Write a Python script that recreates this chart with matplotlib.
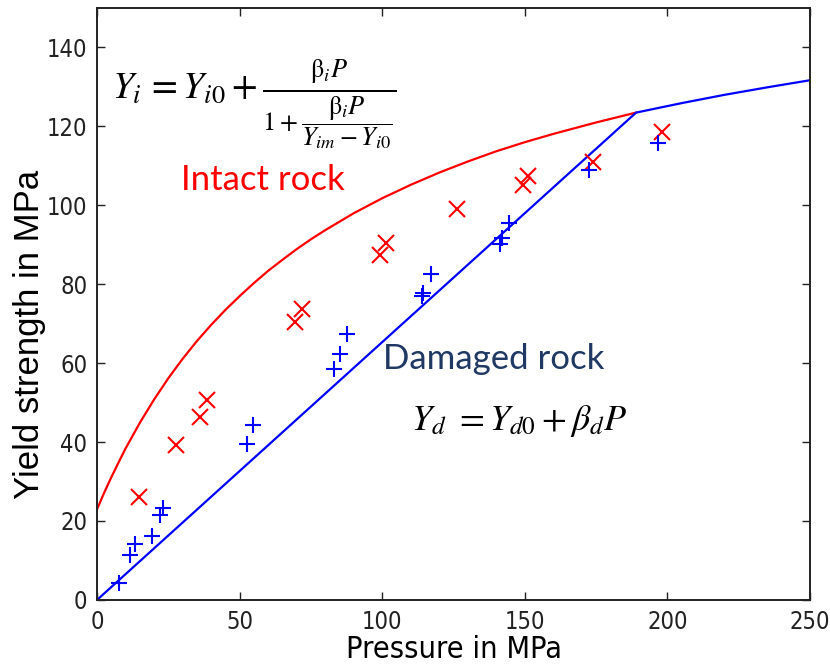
import matplotlib.pyplot as plt

plt.rcParams['mathtext.fontset'] = 'stix'

# intact rock curve
intact_p = [0, 2.5, 5, 7.5, 10, 15, 20, 25, 30, 35, 40, 45, 50, 55, 60, 65, 70, 75, 80,
            90, 100, 110, 120, 130, 140, 150, 160, 175, 189]
intact_y = [23.0, 27.2, 31.1, 34.8, 38.4, 44.9, 50.8, 56.2, 61.1, 65.6, 69.7, 73.5, 77.0,
            80.3, 83.4, 86.2, 88.9, 91.4, 93.7, 98.0, 101.8, 105.2, 108.3, 111.1, 113.7,
            116.0, 118.1, 121.0, 123.5]

# damaged rock line, follows the intact curve after the kink
damaged_p = [0, 189, 205, 220, 235, 250]
damaged_y = [0.0, 123.5, 125.9, 128.0, 129.9, 131.7]

# measured points
intact_pts_p = [14.7, 27.7, 36.1, 38.7, 69.4, 71.9, 99.2, 101.3, 126.1, 149.5, 151.0, 174.0, 198.0]
intact_pts_y = [26.1, 39.2, 46.3, 50.6, 70.3, 73.6, 87.3, 90.5, 99.0, 105.1, 107.4, 111.0, 118.6]

damaged_pts_p = [7.8, 11.6, 13.3, 19.2, 22.1, 23.0, 52.7, 54.8, 83.1, 85.2, 87.5,
                 113.8, 114.4, 117.0, 141.3, 141.9, 144.6, 172.6, 196.8]
damaged_pts_y = [4.2, 11.4, 14.1, 16.3, 21.6, 23.3, 39.6, 44.4, 58.4, 62.2, 67.3,
                 77.0, 77.8, 82.7, 90.1, 91.8, 95.4, 109.0, 115.9]

x_ticks = [0, 50, 100, 150, 200, 250]
y_ticks = [0, 20, 40, 60, 80, 100, 120, 140]

fig = plt.figure(figsize=(8.3, 6.68), dpi=100)
ax = fig.add_axes([0.117, 0.102, 0.859, 0.886])

ax.plot(intact_p, intact_y, color='#ff0000', lw=1.6)
ax.plot(damaged_p, damaged_y, color='#0000ff', lw=1.6)
ax.plot(intact_pts_p, intact_pts_y, 'x', color='#ff0000', ms=11, mew=1.5)
ax.plot(damaged_pts_p, damaged_pts_y, '+', color='#0000ff', ms=12, mew=1.5)

ax.set_xlim(0, 250)
ax.set_ylim(0, 150)
ax.set_xticks(x_ticks)
ax.set_yticks(y_ticks)
ax.tick_params(direction='in', top=True, right=True, length=6, width=1,
               colors='#222222', pad=7)
for lab in ax.get_xticklabels() + ax.get_yticklabels():
    lab.set_family('DejaVu Sans')
    lab.set_stretch('condensed')
    lab.set_fontsize(17)
for s in ax.spines.values():
    s.set_linewidth(1.4)
    s.set_color('#222222')

ax.set_xlabel('Pressure in MPa', fontsize=22, family='DejaVu Sans', fontstretch='condensed',
              labelpad=1)
fig.text(0.036, 0.5, 'Yield strength in MPa', rotation=90, fontsize=25,
         family=['Liberation Sans', 'DejaVu Sans'], ha='center', va='center')

ax.text(58, 104, 'Intact rock', color='#ff0000', fontsize=25, family='Lato',
        ha='center', va='baseline')
ax.text(139, 58.6, 'Damaged rock', color='#1f3864', fontsize=25, family='Lato',
        ha='center', va='baseline')

fig.text(0.135, 0.852,
         r'$Y_i\,=Y_{i0}+\frac{\mathrm{\beta}_i P}{1+\dfrac{\mathrm{\beta}_i P}{Y_{im}-Y_{i0}}}$',
         fontsize=27, va='baseline', ha='left')
fig.text(0.495, 0.357, r'$Y_d\ =Y_{d0}+\beta_d P$', fontsize=26, va='baseline', ha='left')

plt.savefig('out.png', dpi=100)
